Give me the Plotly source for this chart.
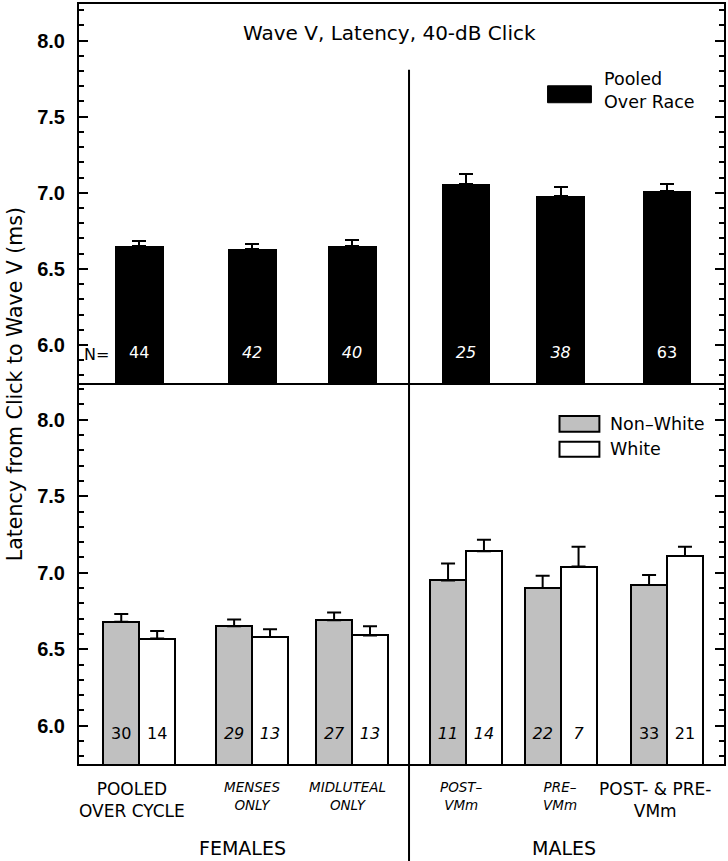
import plotly.graph_objects as go
from plotly.subplots import make_subplots

# ---------------- data ----------------
categories = ["POOLED<br>OVER CYCLE", "<i>MENSES<br>ONLY</i>", "<i>MIDLUTEAL<br>ONLY</i>",
              "<i>POST–<br>VMm</i>", "<i>PRE–<br>VMm</i>", "POST- &amp; PRE-<br>VMm"]
cat_pos = [0.56, 1.61, 2.54, 3.60, 4.48, 5.47]          # category centres on x axis
label_big = [True, False, False, False, False, True]

pooled_mean = [6.65, 6.63, 6.65, 7.06, 6.98, 7.01]
pooled_err = [0.035, 0.035, 0.04, 0.065, 0.06, 0.045]
pooled_n = ["44", "<i>42</i>", "<i>40</i>", "<i>25</i>", "<i>38</i>", "63"]

nonwhite_mean = [6.68, 6.65, 6.69, 6.95, 6.90, 6.92]
nonwhite_err = [0.05, 0.045, 0.05, 0.11, 0.08, 0.065]
nonwhite_n = ["30", "<i>29</i>", "<i>27</i>", "<i>11</i>", "<i>22</i>", "33"]

white_mean = [6.57, 6.58, 6.59, 7.14, 7.04, 7.11]
white_err = [0.05, 0.05, 0.06, 0.075, 0.13, 0.06]
white_n = ["14", "<i>13</i>", "<i>13</i>", "<i>14</i>", "<i>7</i>", "21"]

y_ticks = [6.0, 6.5, 7.0, 7.5, 8.0]
y_range = [5.75, 8.24]
x_range = [0, 6]
divider_x = 3.07

# ---------------- layout helpers ----------------
W, H = 728, 861
ML, MR, MT, MB = 79, 2, 2, 97
PW, PH = W - ML - MR, H - MT - MB


def px(p):  # pixel x -> paper
    return (p - ML) / PW


def py(p):  # pixel y -> paper
    return (H - MB - p) / PH


split = py(382)

FONT = "DejaVu Sans, sans-serif"
TICKFONT = "Liberation Sans, Arial, sans-serif"
fig = make_subplots(rows=2, cols=1, vertical_spacing=0)
fig.update_layout(yaxis=dict(domain=[split, 1]), yaxis2=dict(domain=[0, split]))

bw_top = 0.455
bw = 0.334
n_y = 5.94
NFS = 16

fig.add_trace(go.Bar(x=cat_pos, y=pooled_mean, width=bw_top, base=0,
                     marker=dict(color="black", line=dict(color="black", width=0)),
                     error_y=dict(type="data", array=pooled_err, arrayminus=[0] * 6,
                                  symmetric=False, color="black", thickness=2, width=7),
                     showlegend=False), row=1, col=1)
fig.add_trace(go.Scatter(x=cat_pos, y=[n_y] * 6, mode="text", text=pooled_n,
                         textfont=dict(family=FONT, size=NFS, color="white"),
                         showlegend=False), row=1, col=1)

fig.add_trace(go.Bar(x=cat_pos, y=nonwhite_mean, width=bw, offset=-bw, base=0,
                     marker=dict(color="#c0c0c0", line=dict(color="black", width=2)),
                     error_y=dict(type="data", array=nonwhite_err, arrayminus=[0] * 6,
                                  symmetric=False, color="black", thickness=2, width=7),
                     showlegend=False), row=2, col=1)
fig.add_trace(go.Bar(x=cat_pos, y=white_mean, width=bw, offset=0, base=0,
                     marker=dict(color="white", line=dict(color="black", width=2)),
                     error_y=dict(type="data", array=white_err, arrayminus=[0] * 6,
                                  symmetric=False, color="black", thickness=2, width=7),
                     showlegend=False), row=2, col=1)
fig.add_trace(go.Scatter(x=[p - bw / 2 for p in cat_pos], y=[n_y] * 6, mode="text",
                         text=nonwhite_n,
                         textfont=dict(family=FONT, size=NFS, color="black"),
                         showlegend=False), row=2, col=1)
fig.add_trace(go.Scatter(x=[p + bw / 2 for p in cat_pos], y=[n_y] * 6, mode="text",
                         text=white_n,
                         textfont=dict(family=FONT, size=NFS, color="black"),
                         showlegend=False), row=2, col=1)

yax = dict(range=y_range, tickvals=y_ticks, tickformat=".1f", ticks="inside", ticklen=9,
           tickwidth=2, tickcolor="black", showline=True, linewidth=2, linecolor="black",
           mirror="ticks", showgrid=False, zeroline=False, ticklabelstandoff=8,
           tickfont=dict(family=TICKFONT, size=20, color="black", weight="bold"),
           minor=dict(tick0=6.0, dtick=0.1, ticks="inside", ticklen=5, tickwidth=2,
                      tickcolor="black", showgrid=False))
xax = dict(range=x_range, showticklabels=False, ticks="", showline=True, linewidth=2,
           linecolor="black", mirror=True, showgrid=False, zeroline=False)
fig.update_yaxes(**yax)
fig.update_xaxes(**xax)
fig.update_xaxes(mirror=False, row=2, col=1)


def ann(text, x, y, size, xanchor="center", yanchor="middle", xref="paper", yref="paper",
        **kw):
    return dict(text=text, x=x, y=y, xref=xref, yref=yref, xanchor=xanchor,
                yanchor=yanchor, showarrow=False,
                font=dict(family=FONT, size=size, color="black"), **kw)


annotations = [
    ann("Wave V, Latency, 40-dB Click", px(390), py(31), 20),
    ann("N=", px(82), n_y, NFS, xanchor="left", yref="y"),
    ann("Latency from Click to Wave V (ms)", px(15), py(383), 20.5, textangle=-90),
    ann("FEMALES", px(243), py(848), 19),
    ann("MALES", px(566), py(848), 19),
    ann("Pooled<br>Over Race", px(604), py(89), 17.5, xanchor="left", align="left"),
    ann("Non–White", px(610), py(423), 17.5, xanchor="left"),
    ann("White", px(610), py(448), 17.5, xanchor="left"),
]
label_shift = [-7, 0, -5, -5, -1, -12]
for c, p, big, s in zip(categories, cat_pos, label_big, label_shift):
    annotations.append(ann(c, p, py(777), 17 if big else 13.5, xref="x2", yanchor="top",
                           xshift=s))

shapes = []
dx = (divider_x - x_range[0]) / (x_range[1] - x_range[0])
shapes.append(dict(type="line", xref="paper", yref="paper", x0=dx, x1=dx,
                   y0=py(H + 2), y1=py(68), line=dict(color="black", width=2)))
shapes.append(dict(type="rect", xref="paper", yref="paper", x0=px(549), x1=px(593),
                   y0=py(101), y1=py(84), fillcolor="black", line=dict(color="black", width=1)))
shapes.append(dict(type="rect", xref="paper", yref="paper", x0=px(561), x1=px(601),
                   y0=py(431), y1=py(415), fillcolor="#c0c0c0", line=dict(color="black", width=2)))
shapes.append(dict(type="rect", xref="paper", yref="paper", x0=px(561), x1=px(601),
                   y0=py(456), y1=py(441), fillcolor="white", line=dict(color="black", width=2)))

fig.update_layout(width=W, height=H, margin=dict(l=ML, r=MR, t=MT, b=MB),
                  paper_bgcolor="white", plot_bgcolor="white",
                  annotations=annotations, shapes=shapes, bargap=0,
                  font=dict(family=FONT, color="black"))

fig.write_html("out.html", config={"displayModeBar": False},
               post_script="document.body.style.margin='0';document.body.style.overflow='hidden';")
